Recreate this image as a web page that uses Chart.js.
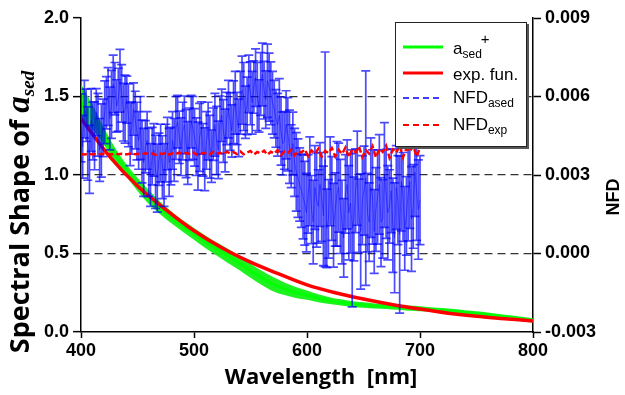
<!DOCTYPE html>
<html>
<head>
<meta charset="utf-8">
<script src="https://cdn.jsdelivr.net/npm/chart.js@4.4.1/dist/chart.umd.min.js"></script>
<style>
  html, body { margin: 0; padding: 0; background: #fff; }
  #wrap { width: 625px; height: 395px; position: relative; }
</style>
</head>
<body>
<div id="wrap"><canvas id="myChart" width="625" height="395"></canvas></div>
<script>
// a_sed+ (green) with its spread
const greenWl = [400, 410, 420, 430, 440, 450, 460, 470, 480, 490, 500, 510, 520, 530, 540, 550, 560, 570, 580, 590,
  600, 610, 620, 630, 640, 650, 660, 670, 680, 690, 700, 710, 720, 730, 740, 750, 760, 770, 780, 790, 800];
const greenVal = [1.46, 1.37, 1.25, 1.13, 1.03, 0.94, 0.86, 0.79, 0.73, 0.675, 0.625, 0.575, 0.53, 0.485, 0.44, 0.39,
  0.345, 0.305, 0.275, 0.252, 0.235, 0.215, 0.2, 0.188, 0.178, 0.172, 0.166, 0.162, 0.157, 0.152, 0.148, 0.143, 0.138,
  0.132, 0.125, 0.118, 0.11, 0.101, 0.092, 0.083, 0.074];
const greenErr = [0.12, 0.08, 0.055, 0.045, 0.04, 0.042, 0.045, 0.04, 0.038, 0.036, 0.038, 0.04, 0.042, 0.045, 0.045,
  0.045, 0.045, 0.045, 0.04, 0.035, 0.03, 0.025, 0.022, 0.02, 0.018, 0.017, 0.016, 0.016, 0.016, 0.016, 0.016, 0.015,
  0.015, 0.015, 0.014, 0.014, 0.014, 0.014, 0.014, 0.014, 0.014];

// exp. fun. (red solid)
const expWl = [400, 425, 450, 475, 500, 525, 550, 575, 600, 625, 650, 675, 700, 725, 750, 775, 800];
const expFun = [1.36, 1.12, 0.93, 0.78, 0.645, 0.535, 0.445, 0.37, 0.30, 0.25, 0.21, 0.175, 0.146, 0.12, 0.10, 0.085, 0.07];

// NFD series (right axis)
const nfdWl = [400, 403, 406, 409, 412, 415, 418, 421, 424, 427, 430, 433, 436, 439, 442, 445, 448, 451, 454, 457,
  460, 463, 466, 469, 472, 475, 478, 481, 484, 487, 490, 493, 496, 499, 502, 505, 508, 511, 514, 517, 520, 523, 526,
  529, 532, 535, 538, 541, 544, 547, 550, 553, 556, 559, 562, 565, 568, 571, 574, 577, 580, 583, 586, 589, 592, 595,
  598, 601, 604, 607, 610, 613, 616, 619, 622, 625, 628, 631, 634, 637, 640, 643, 646, 649, 652, 655, 658, 661, 664,
  667, 670, 673, 676, 679, 682, 685, 688, 691, 694, 697, 700];
const nfdAsed = [
  0.0048, 0.00552, 0.0042, 0.0051, 0.0045, 0.00492, 0.00432,
  0.0054, 0.006, 0.0057, 0.0063, 0.00588, 0.00612, 0.00552, 0.00528, 0.0048, 0.0051,
  0.00432, 0.0039, 0.00408, 0.00348, 0.00372, 0.00312, 0.0036, 0.0033, 0.00384, 0.00348,
  0.00432, 0.0048, 0.00444, 0.00468, 0.0042, 0.00456, 0.0048, 0.00408, 0.00444, 0.00396,
  0.00432, 0.00408, 0.00456, 0.00432, 0.00492, 0.00468, 0.00516, 0.00504, 0.0054, 0.00516,
  0.00576, 0.006, 0.00564, 0.00612, 0.00636, 0.006, 0.00648, 0.00624, 0.0066, 0.00612,
  0.00552, 0.00492, 0.00468, 0.00432, 0.00456, 0.00372, 0.00348, 0.00288, 0.0024, 0.00192,
  0.00228, 0.00168, 0.00252, 0.0018, 0.00216, 0.0036, 0.00132, 0.0021, 0.00168, 0.00252,
  0.0012, 0.00228, 0.00156, 0.00096, 0.0024, 0.00144, 0.00204, 0.00288, 0.0012, 0.00216,
  0.00168, 0.00264, 0.00132, 0.00228, 0.0018, 0.00108, 0.00252, 0.00072, 0.00216, 0.00144,
  0.00276, 0.0018, 0.0024, 0.00204];
const nfdAsedErr = [
  0.0013, 0.0011, 0.0014, 0.0012, 0.0013, 0.0012, 0.0014,
  0.0012, 0.0011, 0.0013, 0.0010, 0.0012, 0.0011, 0.0013, 0.0012, 0.0010, 0.0011,
  0.0011, 0.0012, 0.0010, 0.0013, 0.0011, 0.0014, 0.0010, 0.0012, 0.0011, 0.0013,
  0.0011, 0.0012, 0.0010, 0.0011, 0.0013, 0.0010, 0.0012, 0.0011, 0.0013, 0.0010,
  0.0011, 0.0012, 0.0010, 0.0013, 0.0011, 0.0012, 0.0010, 0.0011, 0.0012, 0.0010,
  0.0012, 0.0013, 0.0011, 0.0012, 0.0010, 0.0013, 0.0012, 0.0011, 0.0014, 0.0012,
  0.0011, 0.0012, 0.0013, 0.0011, 0.0014, 0.0012, 0.0013, 0.0015, 0.0014, 0.0016,
  0.0015, 0.0013, 0.0016, 0.0014, 0.0017, 0.0041, 0.0015, 0.0016, 0.0014, 0.0017,
  0.0016, 0.0015, 0.0018, 0.0030, 0.0016, 0.0014, 0.0017, 0.0041, 0.0015, 0.0018,
  0.0016, 0.0019, 0.0015, 0.0017, 0.0014, 0.0018, 0.0016, 0.0030, 0.0017, 0.0015,
  0.0018, 0.0016, 0.0019, 0.0017];
// in-between NFD_ased readings
const nfdWlMid = [401.5, 404.5, 407.5, 410.5, 413.5, 416.5, 419.5, 422.5, 425.5, 428.5, 431.5, 434.5, 437.5, 440.5,
  443.5, 446.5, 449.5, 452.5, 455.5, 458.5, 461.5, 464.5, 467.5, 470.5, 473.5, 476.5, 479.5, 482.5, 485.5, 488.5,
  491.5, 494.5, 497.5, 500.5, 503.5, 506.5, 509.5, 512.5, 515.5, 518.5, 521.5, 524.5, 527.5, 530.5, 533.5, 536.5,
  539.5, 542.5, 545.5, 548.5, 551.5, 554.5, 557.5, 560.5, 563.5, 566.5, 569.5, 572.5, 575.5, 578.5, 581.5, 584.5,
  587.5, 590.5, 593.5, 596.5, 599.5, 602.5, 605.5, 608.5, 611.5, 614.5, 617.5, 620.5, 623.5, 626.5, 629.5, 632.5,
  635.5, 638.5, 641.5, 644.5, 647.5, 650.5, 653.5, 656.5, 659.5, 662.5, 665.5, 668.5, 671.5, 674.5, 677.5, 680.5,
  683.5, 686.5, 689.5, 692.5, 695.5, 698.5];
const nfdAsedMid = [
  0.00408, 0.00528, 0.0036, 0.00468, 0.0054, 0.00396, 0.0048, 0.00576, 0.00516, 0.00648,
  0.00564, 0.0066, 0.0054, 0.00588, 0.00456, 0.00552, 0.00468, 0.0048, 0.00348, 0.00432,
  0.003, 0.00396, 0.00288, 0.00384, 0.003, 0.0042, 0.00372, 0.00396, 0.00504, 0.00408,
  0.00492, 0.00384, 0.00504, 0.00444, 0.00372, 0.0048, 0.0036, 0.00468, 0.00372, 0.00492,
  0.00396, 0.00528, 0.00432, 0.00552, 0.00468, 0.00576, 0.0048, 0.00624, 0.0054, 0.00648,
  0.00576, 0.00672, 0.00564, 0.00684, 0.00588, 0.00636, 0.00576, 0.00516, 0.00528, 0.0042,
  0.00492, 0.00408, 0.0042, 0.00312, 0.00264, 0.00216, 0.00156, 0.00276, 0.0012, 0.00204,
  0.00264, 0.00144, 0.00096, 0.00276, 0.00108, 0.00228, 0.0018, 0.0006, 0.00264, 0.00192,
  0.00132, 0.00288, 0.00084, 0.0024, 0.00156, 0.00252, 0.00084, 0.00216, 0.0012, 0.003,
  0.00156, 0.0024, 0.0006, 0.00204, 0.00276, 0.00096, 0.00228, 0.00132, 0.00312, 0.00168];
const nfdAsedMidErr = [
  0.0012, 0.0010, 0.0013, 0.0011, 0.0009, 0.0012, 0.0011, 0.0010, 0.0012, 0.0011,
  0.0010, 0.0012, 0.0011, 0.0009, 0.0012, 0.0010, 0.0011, 0.0012, 0.0013, 0.0011,
  0.0012, 0.0010, 0.0013, 0.0011, 0.0012, 0.0010, 0.0011, 0.0012, 0.0010, 0.0011,
  0.0011, 0.0012, 0.0010, 0.0011, 0.0013, 0.0010, 0.0012, 0.0011, 0.0010, 0.0012,
  0.0011, 0.0010, 0.0012, 0.0011, 0.0010, 0.0012, 0.0011, 0.0013, 0.0010, 0.0011,
  0.0012, 0.0011, 0.0010, 0.0012, 0.0011, 0.0013, 0.0012, 0.0011, 0.0014, 0.0012,
  0.0013, 0.0014, 0.0012, 0.0015, 0.0014, 0.0016, 0.0015, 0.0017, 0.0016, 0.0018,
  0.0016, 0.0019, 0.0015, 0.0017, 0.0016, 0.0020, 0.0018, 0.0015, 0.0017, 0.0019,
  0.0016, 0.0018, 0.0022, 0.0017, 0.0015, 0.0019, 0.0016, 0.0018, 0.0017, 0.0020,
  0.0018, 0.0016, 0.0021, 0.0017, 0.0019, 0.0016, 0.0018, 0.0020, 0.0017, 0.0019];
const nfdExp = [
  0.00380, 0.00378, 0.00381, 0.00379, 0.00380, 0.00377, 0.00381,
  0.00379, 0.00380, 0.00378, 0.00382, 0.00379, 0.00381, 0.00378, 0.00380, 0.00383, 0.00379,
  0.00381, 0.00378, 0.00384, 0.00379, 0.00382, 0.00377, 0.00383, 0.00380, 0.00385, 0.00378,
  0.00383, 0.00380, 0.00386, 0.00379, 0.00384, 0.00381, 0.00387, 0.00378, 0.00385, 0.00382,
  0.00386, 0.00379, 0.00388, 0.00381, 0.00385, 0.00378, 0.00389, 0.00382, 0.00387, 0.00380,
  0.00390, 0.00379, 0.00386, 0.00392, 0.00378, 0.00388, 0.00383, 0.00393, 0.00377, 0.00389,
  0.00382, 0.00395, 0.00376, 0.00390, 0.00384, 0.00397, 0.00375, 0.00391, 0.00386, 0.00398,
  0.00372, 0.00394, 0.00381, 0.00400, 0.00370, 0.00392, 0.00384, 0.00403, 0.00371, 0.00396,
  0.00380, 0.00405, 0.00368, 0.00398, 0.00386, 0.00408, 0.00369, 0.00395, 0.00382, 0.00410,
  0.00367, 0.00400, 0.00388, 0.00412, 0.00366, 0.00397, 0.00385, 0.00414, 0.00368, 0.00402,
  0.00390, 0.00412, 0.00370, 0.00405];

const pts = (xs, ys, es) => xs.map((x, i) => ({ x: x, y: ys[i], e: es ? es[i] : 0 }));
const nfdAsedPts = pts(nfdWl, nfdAsed, nfdAsedErr)
  .concat(pts(nfdWlMid, nfdAsedMid, nfdAsedMidErr))
  .sort((a, b) => a.x - b.x);

Chart.defaults.font.family = '"Liberation Sans", Arial, sans-serif';
Chart.defaults.color = '#000';

// vertical error bars with caps, drawn under the dataset's own line
const errorBars = {
  id: 'errorBars',
  beforeDatasetDraw(chart, args) {
    const ds = chart.data.datasets[args.index];
    if (!ds.errorColor) return;
    const ctx = chart.ctx;
    const area = chart.chartArea;
    const xs = chart.scales.x;
    const ys = chart.scales[ds.yAxisID];
    ctx.save();
    ctx.beginPath();
    ctx.rect(area.left, area.top, area.right - area.left, area.bottom - area.top);
    ctx.clip();
    ctx.strokeStyle = ds.errorColor;
    ctx.lineWidth = 1.7;
    ds.data.forEach(p => {
      const x = xs.getPixelForValue(p.x);
      const lo = ys.getPixelForValue(p.y - p.e);
      const hi = ys.getPixelForValue(p.y + p.e);
      ctx.beginPath();
      ctx.moveTo(x, lo); ctx.lineTo(x, hi);
      ctx.moveTo(x - 4.5, lo); ctx.lineTo(x + 4.5, lo);
      ctx.moveTo(x - 4.5, hi); ctx.lineTo(x + 4.5, hi);
      ctx.stroke();
    });
    ctx.restore();
  }
};

// axis titles and the legend box (they need sub/superscripts)
function drawParts(ctx, x, y, parts) {
  let cx = x;
  parts.forEach(p => {
    ctx.font = p.font;
    ctx.fillText(p.text, cx, y + (p.dy || 0));
    cx += ctx.measureText(p.text).width;
  });
  return cx;
}
function partsWidth(ctx, parts) {
  let w = 0;
  parts.forEach(p => { ctx.font = p.font; w += ctx.measureText(p.text).width; });
  return w;
}

const decor = {
  id: 'decor',
  afterDraw(chart) {
    const ctx = chart.ctx;
    ctx.save();
    ctx.fillStyle = '#000';
    ctx.textBaseline = 'alphabetic';

    // x title
    ctx.textAlign = 'center';
    ctx.font = 'bold 22px "Open Sans"';
    ctx.fillText('Wavelength  [nm]', 321, 384);

    // left y title
    ctx.textAlign = 'left';
    const yParts = [
      { text: 'Spectral Shape of ', font: 'bold 27px "Open Sans"' },
      { text: 'a', font: 'italic bold 33px "Liberation Serif"' },
      { text: 'sed', font: 'italic bold 19px "Liberation Serif"', dy: 5 }
    ];
    ctx.save();
    ctx.translate(29, 212);
    ctx.rotate(-Math.PI / 2);
    drawParts(ctx, -partsWidth(ctx, yParts) / 2, 0, yParts);
    ctx.restore();

    // right y title
    ctx.save();
    ctx.translate(614, 197);
    ctx.rotate(-Math.PI / 2);
    ctx.textAlign = 'center';
    ctx.textBaseline = 'middle';
    ctx.font = 'bold 18px "Liberation Sans"';
    ctx.fillText('NFD', 0, 0);
    ctx.restore();

    // legend box
    ctx.fillStyle = '#555';
    ctx.fillRect(397, 24, 132, 125);
    ctx.fillStyle = '#fff';
    ctx.fillRect(395, 22, 132, 125);
    ctx.strokeStyle = '#222';
    ctx.lineWidth = 1;
    ctx.strokeRect(395.5, 22.5, 131, 124);

    const rows = [
      { y: 47, color: '#00ff00', width: 3, dash: [] },
      { y: 73, color: '#ff0000', width: 3, dash: [] },
      { y: 98, color: '#0000ff', width: 1.5, dash: [6, 4] },
      { y: 125, color: '#ff0000', width: 2, dash: [6, 4] }
    ];
    rows.forEach(r => {
      ctx.beginPath();
      ctx.setLineDash(r.dash);
      ctx.strokeStyle = r.color;
      ctx.lineWidth = r.width;
      ctx.moveTo(403, r.y);
      ctx.lineTo(443, r.y);
      ctx.stroke();
    });
    ctx.setLineDash([]);
    ctx.fillStyle = '#000';
    ctx.textAlign = 'left';
    const big = '17px "Liberation Sans"';
    const small = '12px "Liberation Sans"';
    const endA = drawParts(ctx, 453, 54, [{ text: 'a', font: big }, { text: 'sed', font: small, dy: 4 }]);
    ctx.font = '15px "Liberation Sans"';
    ctx.fillText('+', endA - 1, 44);
    drawParts(ctx, 453, 80, [{ text: 'exp. fun.', font: big }]);
    drawParts(ctx, 453, 103, [{ text: 'NFD', font: big }, { text: 'ased', font: small, dy: 4 }]);
    drawParts(ctx, 453, 130, [{ text: 'NFD', font: big }, { text: 'exp', font: small, dy: 4 }]);
    ctx.restore();
  }
};

const tickFont = { family: '"Liberation Sans"', weight: 'bold', size: 18 };

new Chart(document.getElementById('myChart').getContext('2d'), {
  type: 'line',
  data: {
    datasets: [
      { label: 'NFD_exp', data: pts(nfdWl, nfdExp), yAxisID: 'y1', borderColor: '#ff0000', borderWidth: 2.5,
        borderDash: [6, 3], pointRadius: 0, fill: false, order: 1 },
      { label: 'NFD_ased', data: nfdAsedPts, errorColor: 'rgba(0,0,255,0.7)',
        yAxisID: 'y1', borderColor: 'rgba(0,0,255,0.55)', borderWidth: 0.8, pointRadius: 0, fill: false, order: 2 },
      { label: 'exp. fun.', data: pts(expWl, expFun), yAxisID: 'y', borderColor: '#ff0000', borderWidth: 3.5,
        cubicInterpolationMode: 'monotone', pointRadius: 0, fill: false, order: 3 },
      { label: 'a_sed+', data: pts(greenWl, greenVal), yAxisID: 'y', borderColor: '#00ff00', borderWidth: 3,
        cubicInterpolationMode: 'monotone', pointRadius: 0, fill: false, order: 4 },
      { label: 'upper', data: pts(greenWl, greenVal.map((v, i) => v + greenErr[i])), yAxisID: 'y',
        borderColor: 'rgba(0,0,0,0)', borderWidth: 1, cubicInterpolationMode: 'monotone', pointRadius: 0, fill: false, order: 5 },
      { label: 'lower', data: pts(greenWl, greenVal.map((v, i) => v - greenErr[i])), yAxisID: 'y',
        borderColor: 'rgba(0,0,0,0)', borderWidth: 1, cubicInterpolationMode: 'monotone', pointRadius: 0,
        fill: '-1', backgroundColor: 'rgba(20,240,20,0.95)', order: 6 }
    ]
  },
  options: {
    responsive: false,
    animation: false,
    layout: { padding: { top: 18, left: 0, right: 0, bottom: 0 } },
    plugins: { legend: { display: false }, tooltip: { enabled: false } },
    scales: {
      x: {
        type: 'linear', min: 400, max: 800,
        afterFit: s => { s.height = 63; },
        ticks: { stepSize: 100, font: tickFont, color: '#000', padding: 2, maxRotation: 0 },
        grid: { drawOnChartArea: false, tickLength: 6, tickColor: '#000', tickWidth: 1.5 },
        border: { color: '#000', width: 1.5 }
      },
      y: {
        position: 'left', min: 0, max: 2,
        afterFit: s => { s.width = 81; },
        ticks: { stepSize: 0.5, font: tickFont, color: '#000', padding: 4, callback: v => v.toFixed(1) },
        grid: {
          color: c => (c.tick && c.tick.value > 0.1 && c.tick.value < 1.9) ? '#333' : 'rgba(0,0,0,0)',
          lineWidth: 1.3, tickLength: 8, tickColor: '#000', tickWidth: 1.5
        },
        border: { color: '#000', width: 1.5, dash: [8, 5] }
      },
      y1: {
        position: 'right', min: -0.003, max: 0.009,
        afterFit: s => { s.width = 92; },
        ticks: { stepSize: 0.003, font: tickFont, color: '#000', padding: 4, callback: v => v.toFixed(3) },
        grid: { drawOnChartArea: false, tickLength: 8, tickColor: '#000', tickWidth: 1.5 },
        border: { color: '#000', width: 1.5 }
      }
    }
  },
  plugins: [errorBars, decor]
});
</script>
</body>
</html>
